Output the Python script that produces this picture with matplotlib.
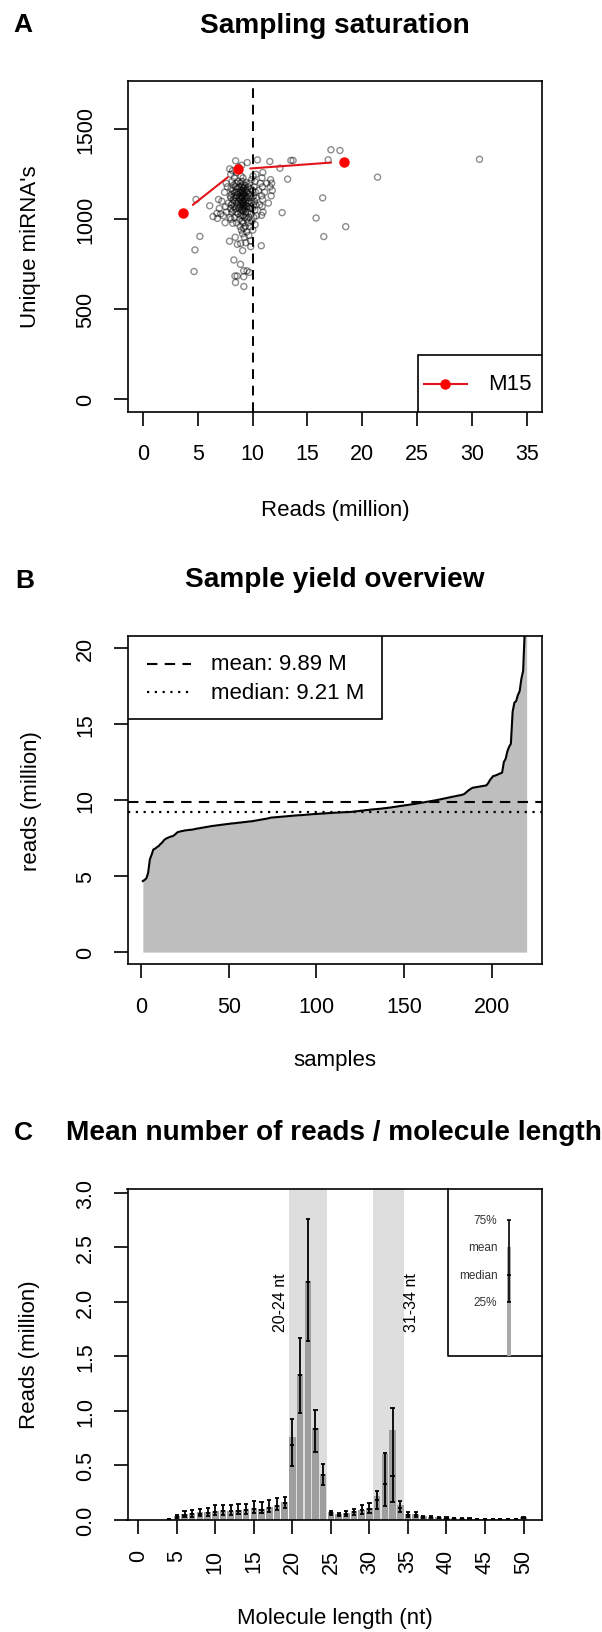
import numpy as np
import matplotlib.pyplot as plt
from matplotlib.patches import Rectangle

plt.rcParams['font.family'] = ['Liberation Sans', 'DejaVu Sans']

# ---- Panel A: lecturas (millones) vs miRNAs unicos, una entrada por muestra ----
reads_million = [
    4.67, 4.75, 4.85, 5.2, 6.1, 6.4, 6.75, 6.8, 6.9, 6.97,
    7.1, 7.2, 7.35, 7.45, 7.5, 7.55, 7.6, 7.62, 7.7, 7.8,
    7.9, 7.92, 7.95, 7.97, 8.0, 8.01, 8.03, 8.04, 8.05, 8.07,
    8.1, 8.12, 8.14, 8.16, 8.18, 8.2, 8.22, 8.24, 8.26, 8.28, 8.3,
    8.31, 8.33, 8.34, 8.36, 8.37, 8.39, 8.4, 8.42, 8.43, 8.45, 8.46,
    8.47, 8.48, 8.5, 8.51, 8.52, 8.54, 8.55, 8.56, 8.58, 8.59, 8.6,
    8.62, 8.64, 8.66, 8.68, 8.7, 8.72, 8.74, 8.76, 8.78, 8.81, 8.84,
    8.85, 8.86, 8.87, 8.88, 8.89, 8.9, 8.91, 8.92, 8.93, 8.94, 8.95, 8.96,
    8.97, 8.98, 8.99, 9.0, 9.0, 9.01, 9.02, 9.03, 9.04, 9.05, 9.06,
    9.07, 9.08, 9.08, 9.09, 9.1, 9.11, 9.11, 9.12, 9.13, 9.14, 9.14,
    9.15, 9.16, 9.17, 9.17, 9.18, 9.19, 9.19, 9.2, 9.2, 9.21, 9.21,
    9.22, 9.23, 9.25, 9.26, 9.27, 9.29, 9.3, 9.31, 9.33, 9.34, 9.35, 9.37,
    9.38, 9.39, 9.4, 9.41, 9.42, 9.43, 9.45, 9.46, 9.47, 9.49, 9.5,
    9.52, 9.54, 9.55, 9.57, 9.59, 9.61, 9.62, 9.64, 9.66,
    9.67, 9.69, 9.71, 9.73, 9.74, 9.76, 9.78, 9.8, 9.82,
    9.84, 9.86, 9.88, 9.9, 9.92, 9.94, 9.96, 9.98, 10.0, 10.03, 10.05, 10.07, 10.1, 10.12, 10.15,
    10.17, 10.2, 10.22, 10.24, 10.27, 10.29, 10.31, 10.34, 10.37,
    10.45, 10.55, 10.65, 10.72, 10.8, 10.82, 10.84, 10.86, 10.88, 10.9, 10.92, 10.94, 10.96,
    11.1, 11.3, 11.45, 11.58, 11.6, 11.65, 11.7, 11.75, 11.8,
    12.5, 12.7, 13.2, 13.5, 13.7, 15.8, 16.4, 16.5, 16.9, 17.15, 17.97, 18.5, 21.4, 30.7,
]
unique_mirnas = [
    710, 830, 1110, 905, 1075, 1015, 1033, 1005, 1110, 1060,
    1030, 1100, 1020, 1150, 981, 1070, 1200, 1040, 1180, 1090,
    878, 1280, 1010, 1130, 1060, 1250, 1120, 1000, 1170, 1080,
    1140, 1040, 1210, 1090, 1270, 978, 1160, 1050, 1110, 1190, 774,
    1130, 1070, 1230, 1010, 1150, 1100, 685, 900, 1180, 649, 1325,
    1060, 1120, 1200, 1040, 1150, 1090, 1260, 980, 1130, 1170, 685,
    861, 1080, 1210, 1030, 1140, 1100, 1290, 1060, 1180, 1000, 1120,
    1150, 1070, 960, 1200, 1110, 750, 1040, 866, 1160, 1090, 1240, 1020,
    1130, 940, 1180, 1080, 1120, 1300, 1050, 1140, 990, 1210, 1100,
    1160, 1060, 1120, 920, 826, 1190, 1090, 1020, 1150, 1070, 1230,
    980, 1130, 1175, 1045, 1100, 950, 1140, 714, 681, 627, 1080,
    1170, 1060, 1110, 900, 1150, 1010, 1190, 1080, 1130, 960, 1040, 1165,
    1100, 870, 1060, 1205, 1020, 1120, 1075, 930, 1150, 1000, 714,
    1315, 1090, 1160, 1040, 1120, 980, 1180, 1070, 910,
    1140, 1010, 705, 1100, 1200, 960, 1060, 1130, 880,
    848, 1170, 1030, 1090, 1220, 990, 1120, 1060, 1160, 940, 1240, 1080, 1130, 1010, 1180,
    1100, 1050, 1210, 970, 1150, 1080, 1250, 1120, 1020,
    1330, 1160, 1080, 1200, 853, 1022, 1130, 1230, 1070, 1180, 1110, 1260, 1040,
    1150, 1200, 1090, 1321, 1180, 1220, 1130, 1200, 1160,
    1284, 1037, 1223, 1327, 1327, 1007, 1119, 904, 1330, 1386, 1382, 959, 1234, 1333,
]

# submuestreo de la muestra M15
m15_reads = [3.66, 8.65, 18.3]
m15_unique = [1037, 1277, 1320]
umbral_reads = 10

# ---- Panel B ----
mean_reads = 9.89
median_reads = 9.21

# ---- Panel C: lecturas por longitud de molecula (millones) ----
lengths = list(range(1, 51))
mean_len = [0, 0, 0, 0.005, 0.035, 0.05, 0.06, 0.065, 0.07, 0.08,
            0.085, 0.08, 0.09, 0.095, 0.11, 0.10, 0.115, 0.135, 0.16, 0.76,
            1.34, 2.19, 0.84, 0.42, 0.07, 0.05, 0.06, 0.075, 0.09, 0.11,
            0.22, 0.60, 0.82, 0.13, 0.05, 0.05, 0.03, 0.025, 0.02, 0.015,
            0.012, 0.01, 0.008, 0.006, 0.005, 0.004, 0.003, 0.003, 0.003, 0.02]
q25_len = [0, 0, 0, 0.002, 0.015, 0.02, 0.025, 0.03, 0.035, 0.04,
           0.045, 0.045, 0.05, 0.055, 0.06, 0.06, 0.07, 0.085, 0.11, 0.49,
           0.98, 1.64, 0.62, 0.32, 0.04, 0.03, 0.035, 0.045, 0.05, 0.06,
           0.10, 0.12, 0.16, 0.07, 0.02, 0.025, 0.015, 0.015, 0.01, 0.008,
           0.006, 0.005, 0.004, 0.003, 0.002, 0.002, 0.001, 0.001, 0.001, 0.01]
median_len = [0, 0, 0, 0.004, 0.03, 0.04, 0.05, 0.055, 0.06, 0.07,
              0.075, 0.075, 0.08, 0.09, 0.10, 0.09, 0.105, 0.125, 0.15, 0.68,
              1.33, 2.18, 0.83, 0.41, 0.06, 0.045, 0.055, 0.07, 0.085, 0.10,
              0.18, 0.33, 0.40, 0.11, 0.04, 0.045, 0.025, 0.02, 0.018, 0.012,
              0.01, 0.008, 0.007, 0.005, 0.004, 0.003, 0.002, 0.002, 0.002, 0.015]
q75_len = [0, 0, 0, 0.008, 0.045, 0.075, 0.09, 0.095, 0.11, 0.13,
           0.135, 0.13, 0.14, 0.145, 0.17, 0.16, 0.175, 0.20, 0.21, 0.92,
           1.67, 2.76, 1.01, 0.51, 0.08, 0.06, 0.075, 0.10, 0.13, 0.15,
           0.26, 0.61, 1.02, 0.17, 0.07, 0.065, 0.035, 0.03, 0.025, 0.02,
           0.016, 0.013, 0.01, 0.008, 0.006, 0.005, 0.004, 0.004, 0.004, 0.025]
bandas = [(20, 24), (31, 34)]
etiquetas_bandas = ['20-24 nt', '31-34 nt']
# ejemplo de la leyenda: base, 25%, mediana, media, 75%
leyenda_vals = [1.5, 2.0, 2.25, 2.5, 2.75]

W, H = 602, 1633
TICK = 15.5
LAB = 16
TIT = 20.2
LW = 1.2


def px(x, y):
    return x / W, 1 - y / H


def estilo(ax):
    for s in ax.spines.values():
        s.set_linewidth(LW)
    ax.tick_params(direction='out', length=10, width=LW, labelsize=TICK, pad=12.5)
    plt.setp(ax.get_yticklabels(), rotation=90, va='center')


fig = plt.figure(figsize=(W / 100, H / 100), dpi=100)
left = 127.5 / W
width = (542 - 127.5) / W

# ======================= A =======================
axA = fig.add_axes([left, 1 - 412.6 / H, width, 330.6 / H])
axA.scatter(reads_million, unique_mirnas, s=19, facecolors='none',
            edgecolors=(0, 0, 0, 0.45), linewidths=1.0, zorder=2)
axA.axvline(umbral_reads, color='black', lw=1.4, ls=(0, (5, 3.5)), zorder=1)
axA.plot(m15_reads, m15_unique, 'o', color='red', ms=6.5, zorder=4)
for i in range(len(m15_reads) - 1):
    axA.annotate('', xy=(m15_reads[i + 1], m15_unique[i + 1]),
                 xytext=(m15_reads[i], m15_unique[i]),
                 arrowprops=dict(arrowstyle='-', color='#e0161c', lw=1.5,
                                 shrinkA=9, shrinkB=9), zorder=3)
axA.set_xlim(-1.4, 36.4)
axA.set_ylim(-68, 1768)
axA.set_xticks(range(0, 36, 5))
axA.set_yticks([0, 500, 1000, 1500])
estilo(axA)
# leyenda manual (estilo R)
axA.add_patch(Rectangle((0.70, 0), 0.30, 0.171, transform=axA.transAxes,
                        facecolor='white', edgecolor='black', lw=LW, zorder=5))
axA.plot([0.715, 0.819], [0.0835, 0.0835], transform=axA.transAxes,
         color='#e0161c', lw=1.5, zorder=6)
axA.plot([0.767], [0.0835], 'o', transform=axA.transAxes, color='red', ms=6.5, zorder=6)
axA.text(0.87, 0.0835, 'M15', transform=axA.transAxes, fontsize=LAB,
         va='center', ha='left', zorder=6)

fig.text(*px(335, 26), 'Sampling saturation', fontsize=TIT, fontweight='bold',
         ha='center', va='center')
fig.text(*px(23, 25), 'A', fontsize=19, fontweight='bold', ha='center', va='center')
fig.text(*px(31, 247), "Unique miRNA's", fontsize=LAB, rotation=90, ha='center', va='center')
fig.text(*px(335, 510.6), 'Reads (million)', fontsize=LAB, ha='center', va='center')

# ======================= B =======================
axB = fig.add_axes([left, 1 - 965.3 / H, width, 328.6 / H])
ordenadas = np.sort(reads_million)
muestras = np.arange(1, len(ordenadas) + 1)
axB.fill_between(muestras, 0, ordenadas, color='#bebebe', lw=0, zorder=1)
axB.plot(muestras, ordenadas, color='black', lw=1.5, zorder=2)
axB.axhline(mean_reads, color='black', lw=1.5, ls=(0, (5, 3.5)), zorder=3)
axB.axhline(median_reads, color='black', lw=1.6, ls=(0, (1, 2.5)), zorder=3)
axB.set_xlim(1 - 8.76, 220 + 8.76)
axB.set_ylim(-0.8, 20.8)
axB.set_xticks([0, 50, 100, 150, 200])
axB.set_yticks([0, 5, 10, 15, 20])
estilo(axB)
axB.add_patch(Rectangle((0, 0.7465), 0.6135, 0.2535, transform=axB.transAxes,
                        facecolor='white', edgecolor='black', lw=LW, zorder=5))
axB.plot([0.046, 0.153], [0.914, 0.914], transform=axB.transAxes, color='black',
         lw=1.5, ls=(0, (5, 3.5)), zorder=6)
axB.plot([0.046, 0.153], [0.828, 0.828], transform=axB.transAxes, color='black',
         lw=1.6, ls=(0, (1, 2.5)), zorder=6)
axB.text(0.2014, 0.914, 'mean: %.2f M' % mean_reads, transform=axB.transAxes,
         fontsize=LAB, va='center', zorder=6)
axB.text(0.2014, 0.828, 'median: %.2f M' % median_reads, transform=axB.transAxes,
         fontsize=LAB, va='center', zorder=6)

fig.text(*px(335, 580), 'Sample yield overview', fontsize=TIT, fontweight='bold',
         ha='center', va='center')
fig.text(*px(25, 581), 'B', fontsize=19, fontweight='bold', ha='center', va='center')
fig.text(*px(31, 801), 'reads (million)', fontsize=LAB, rotation=90, ha='center', va='center')
fig.text(*px(335, 1061), 'samples', fontsize=LAB, ha='center', va='center')

# ======================= C =======================
axC = fig.add_axes([left, 1 - 1520.5 / H, width, 330.9 / H])
for (a, b) in bandas:
    axC.axvspan(a - 0.5, b + 0.5, color='#dedede', lw=0, zorder=0)
axC.bar(lengths, mean_len, width=0.85, color='#9e9e9e', lw=0, zorder=1)
for i, L in enumerate(lengths):
    if q75_len[i] <= 0:
        continue
    axC.vlines(L, q25_len[i], q75_len[i], color='black', lw=1.3, zorder=3)
    axC.hlines([q25_len[i], median_len[i], q75_len[i]], L - 0.27, L + 0.27,
               color='black', lw=1.3, zorder=3)
axC.text(18.4, 2.0, etiquetas_bandas[0], rotation=90, fontsize=11.5, ha='center', va='center')
axC.text(35.4, 2.0, etiquetas_bandas[1], rotation=90, fontsize=11.5, ha='center', va='center')

# recuadro de leyenda con la barra de ejemplo
axC.plot([40.2, 40.2, 52.4], [3.04, 1.5, 1.5], color='black', lw=LW, zorder=4, clip_on=False)
base, p25, pmed, pmean, p75 = leyenda_vals
axC.bar([48.1], [pmean - base], bottom=base, width=0.6, color='#aaaaaa', lw=0, zorder=4)
axC.vlines(48.1, p25, p75, color='black', lw=1.2, zorder=5)
axC.hlines([p25, pmed, p75], 48.1 - 0.22, 48.1 + 0.22, color='black', lw=1.2, zorder=5)
for v, t in zip([p75, pmean, pmed, p25], ['75%', 'mean', 'median', '25%']):
    axC.text(46.6, v, t, fontsize=8.5, ha='right', va='center', color='#333333', zorder=5)

axC.set_xlim(-1.4, 52.4)
axC.set_ylim(0, 3.04)
axC.set_xticks(range(0, 51, 5))
axC.set_yticks([0, 0.5, 1.0, 1.5, 2.0, 2.5, 3.0])
axC.set_yticklabels(['0.0', '0.5', '1.0', '1.5', '2.0', '2.5', '3.0'])
estilo(axC)
axC.tick_params(axis='x', pad=11)
plt.setp(axC.get_xticklabels(), rotation=90)

fig.text(*px(334, 1133), 'Mean number of reads / molecule length', fontsize=TIT,
         fontweight='bold', ha='center', va='center')
fig.text(*px(23, 1133), 'C', fontsize=19, fontweight='bold', ha='center', va='center')
fig.text(*px(29, 1355), 'Reads (million)', fontsize=LAB, rotation=90, ha='center', va='center')
fig.text(*px(335, 1619), 'Molecule length (nt)', fontsize=LAB, ha='center', va='center')

fig.savefig('out.png', dpi=100)
